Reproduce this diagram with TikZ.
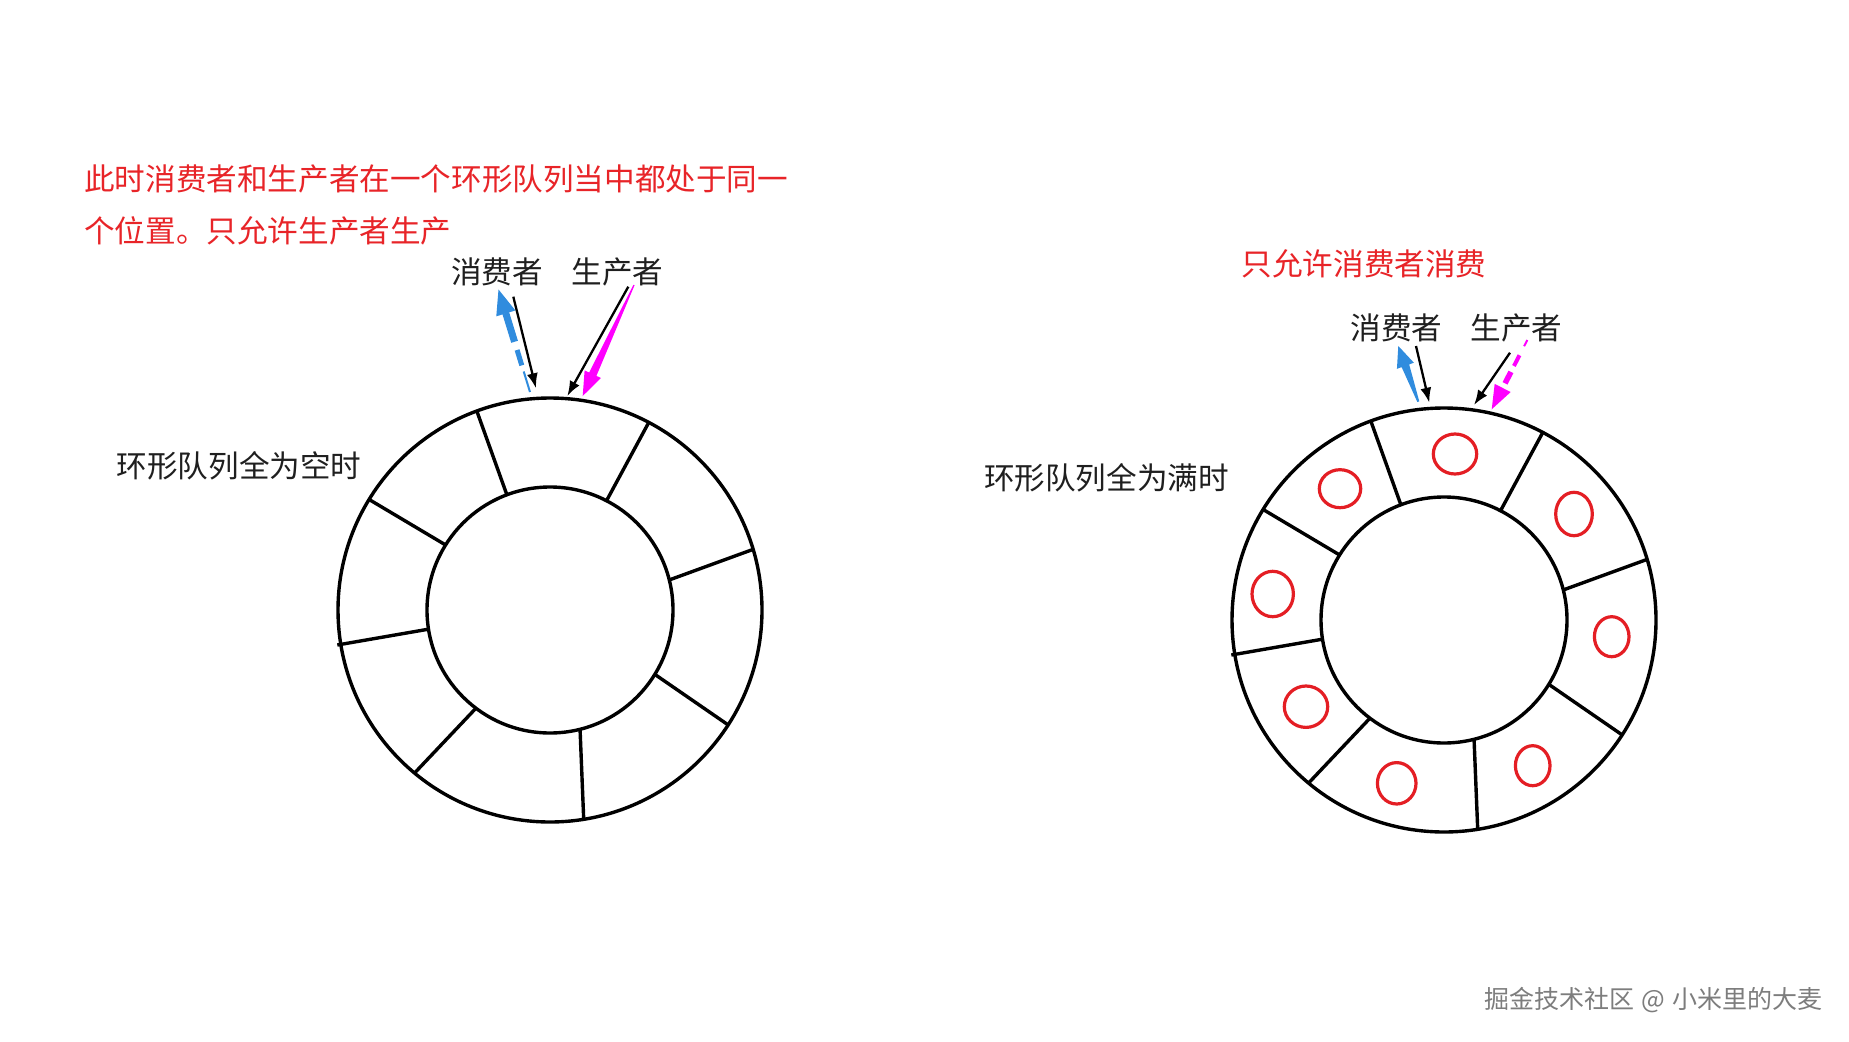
\documentclass[tikz,border=0pt]{standalone}
\usepackage{fontspec}
\setmainfont{Noto Sans CJK SC}
\usetikzlibrary{calc,arrows.meta}
\definecolor{redtxt}{RGB}{232,36,40}
\definecolor{redring}{RGB}{228,30,36}
\definecolor{arrblue}{RGB}{48,140,222}
\definecolor{arrmag}{RGB}{255,0,255}
\definecolor{wmgray}{RGB}{125,125,125}
% tapered solid arrow: #1 colour, #2 start, #3 tip, #4 head length, #5 head half width, #6 shaft half width at head, #7 shaft half width at start
\newcommand{\taperarrow}[7]{%
  \coordinate (tB) at ($(#3)!#4!(#2)$);
  \fill[#1] ($(#2)!#7!90:(#3)$) -- ($(tB)!#6!-90:(#2)$) -- ($(tB)!#5!-90:(#2)$) -- (#3)
     -- ($(tB)!#5!90:(#2)$) -- ($(tB)!#6!90:(#2)$) -- ($(#2)!#7!-90:(#3)$) -- cycle;}
% triangular head: #1 colour, #2 point behind, #3 tip, #4 length, #5 half width
\newcommand{\headtri}[5]{%
  \coordinate (hB) at ($(#3)!#4!(#2)$);
  \fill[#1] (#3) -- ($(hB)!#5!90:(#2)$) -- ($(hB)!#5!-90:(#2)$) -- cycle;}
\newcommand{\ringshape}{%
  \draw[ringline] (0,0) circle[radius=212pt];
  \draw[ringline] (0,0) circle[radius=123pt];
  \draw[ringline] (-42.8,-114.3) -- (-73.3,-199.3);
  \draw[ringline] (56.0,-108.3) -- (98.3,-186.7);
  \draw[ringline] (118.3,-29.7) -- (203.3,-60.7);
  \draw[ringline] (104.0,63.8) -- (178.3,115);
  \draw[ringline] (30,118) -- (33.7,209.3);
  \draw[ringline] (-73.4,97.5) -- (-135.5,163.1);
  \draw[ringline] (-120.5,19.0) -- (-212.7,35);
  \draw[ringline] (-103.5,-64.5) -- (-181.7,-111);}
\begin{document}
\begin{tikzpicture}[x=1pt,y=-1pt,
  ringline/.style={line width=3.4pt,black},
  slot/.style={draw=redring,line width=3.2pt},
  lbl/.style={inner sep=0pt,font=\fontsize{30.6pt}{36pt}\selectfont,text=black!88},
  redlbl/.style={inner sep=0pt,font=\fontsize{30.6pt}{36pt}\selectfont,text=redtxt},
  wm/.style={inner sep=0pt,font=\fontsize{25pt}{30pt}\selectfont,text=wmgray},
  blackarrow/.style={line width=2.3pt,black,-{Latex[length=15pt,width=11pt]}}]
\fill[white] (0,0) rectangle (1849,1041);
\useasboundingbox (0,0) rectangle (1849,1041);

% texts
\node[redlbl,anchor=west] (t1) at (84,179) {此时消费者和生产者在一个环形队列当中都处于同一};
\node[redlbl,anchor=west] (t2) at (84,231) {个位置。只允许生产者生产};
\node[lbl] (lcons) at (497,272) {消费者};
\node[lbl] (lprod) at (617.5,272) {生产者};
\node[lbl] (lempty) at (239,466) {环形队列全为空时};
\node[redlbl] (rtitle) at (1364,264) {只允许消费者消费};
\node[lbl] (rcons) at (1396.5,328) {消费者};
\node[lbl] (rprod) at (1516.5,328) {生产者};
\node[lbl] (rfull) at (1106.5,478) {环形队列全为满时};
\node[wm] (wmark) at (1653.5,1000) {掘金技术社区\hspace{0.3em}@\hspace{0.3em}小米里的大麦};

% left ring (empty)
\begin{scope}[shift={(550,610)}]
  \ringshape
\end{scope}

% right ring (full)
\begin{scope}[shift={(1444,620)}]
  \ringshape
  \draw[slot] (11,-166) ellipse[x radius=21.7pt,y radius=20pt];
  \draw[slot] (130,-106) ellipse[x radius=18.3pt,y radius=21.7pt];
  \draw[slot] (167.7,16.7) ellipse[x radius=17.3pt,y radius=20pt];
  \draw[slot] (88.7,145.7) ellipse[x radius=17.3pt,y radius=20pt];
  \draw[slot] (-47.3,163.3) ellipse[x radius=19.3pt,y radius=20.7pt];
  \draw[slot] (-138,86.7) ellipse[x radius=21.7pt,y radius=20.7pt];
  \draw[slot] (-171.3,-26) ellipse[x radius=20.7pt,y radius=22.7pt];
  \draw[slot] (-104,-131.3) ellipse[x radius=20.7pt,y radius=19pt];
\end{scope}

% left arrows
\coordinate (lBs) at (530,392);
\coordinate (lBt) at (498.5,289.5);
\draw[arrblue,line width=2pt] (lBs) -- ($(lBs)!0.2!(lBt)$);
\draw[arrblue,line width=5pt] ($(lBs)!0.26!(lBt)$) -- ($(lBs)!0.41!(lBt)$);
\draw[arrblue,line width=7pt] ($(lBs)!0.49!(lBt)$) -- ($(lBs)!0.77!(lBt)$);
\headtri{arrblue}{lBs}{lBt}{25pt}{10pt}

\coordinate (lCs) at (513.3,296.7);
\coordinate (lCt) at (536,388.3);
\draw[blackarrow] (lCs) -- (lCt);

\coordinate (lPs) at (628.3,286.7);
\coordinate (lPt) at (567.3,396);
\draw[blackarrow] (lPs) -- (lPt);

\coordinate (lMs) at (634,285);
\coordinate (lMt) at (582.7,396);
\taperarrow{arrmag}{lMs}{lMt}{24pt}{9pt}{4pt}{0.6pt}

% right arrows
\coordinate (rBs) at (1418.3,401.7);
\coordinate (rBt) at (1398.3,346);
\taperarrow{arrblue}{rBs}{rBt}{21pt}{9pt}{4pt}{1pt}

\coordinate (rCs) at (1416,346);
\coordinate (rCt) at (1429.3,402.7);
\draw[blackarrow] (rCs) -- (rCt);

\coordinate (rPs) at (1510,352.7);
\coordinate (rPt) at (1474,405);
\draw[blackarrow] (rPs) -- (rPt);

\coordinate (rMs) at (1527.3,340);
\coordinate (rMt) at (1491.7,409.3);
\draw[arrmag,line width=2pt] (rMs) -- ($(rMs)!0.09!(rMt)$);
\draw[arrmag,line width=4pt] ($(rMs)!0.22!(rMt)$) -- ($(rMs)!0.375!(rMt)$);
\draw[arrmag,line width=5.5pt] ($(rMs)!0.46!(rMt)$) -- ($(rMs)!0.625!(rMt)$);
\headtri{arrmag}{rMs}{rMt}{24pt}{9pt}
\end{tikzpicture}
\end{document}
